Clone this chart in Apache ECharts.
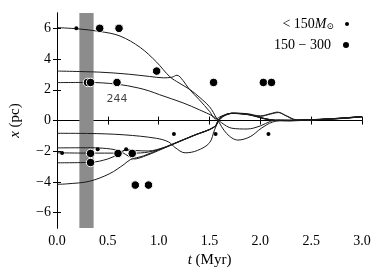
<!DOCTYPE html>
<html>
<head>
<meta charset="utf-8">
<script src="https://cdn.jsdelivr.net/npm/echarts@6/dist/echarts.min.js"></script>
<style>html,body{margin:0;padding:0;background:#fff}#c{width:382px;height:273px}</style>
</head>
<body>
<div id="c"></div>
<script>
// ---- data ----
const tTicks = [0, 0.5, 1.0, 1.5, 2.0, 2.5, 3.0];
const xTicks = [-6, -4, -2, 0, 2, 4, 6];
const band = [0.22, 0.36];
const trackA = [[0,6.05],[0.2,5.97],[0.42,5.8],[0.62,5.5],[0.82,4.75],[0.98,3.8],[1.11,2.85],[1.2,2.45],[1.3,2.05],[1.36,1.75],[1.5,0.9],[1.57,0.15],[1.67,-0.85],[1.78,-1.27],[1.9,-1.05],[2.01,-0.5],[2.12,-0.1],[2.25,0.02],[2.4,0.04],[2.6,0.08],[2.8,0.15],[3.0,0.25]];
const trackB = [[0,3.22],[0.42,3.15],[0.7,3.02],[0.91,2.87],[1.05,2.78],[1.13,2.82],[1.18,2.95],[1.24,2.6],[1.3,2.05],[1.4,1.35],[1.5,0.6],[1.56,0.1],[1.62,0.3],[1.72,0.47],[1.85,0.42],[2.0,0.28],[2.1,0.42],[2.18,0.52],[2.26,0.3],[2.36,0.05],[2.5,0.05],[2.7,0.12],[3.0,0.26]];
const trackC = [[0,2.47],[0.3,2.48],[0.59,2.37],[0.8,2.12],[0.91,1.92],[1.01,1.68],[1.24,1.15],[1.4,0.7],[1.54,0.26],[1.62,-0.15],[1.72,-0.5],[1.87,-0.55],[2.0,-0.35],[2.1,-0.05],[2.2,0.05],[2.36,0.0],[2.5,0.05],[2.7,0.1],[3.0,0.25]];
const trackL1 = [[0,-0.83],[0.3,-0.84],[0.66,-0.93],[0.98,-1.16],[1.1,-1.4],[1.16,-1.75],[1.26,-2.1],[1.38,-1.95],[1.5,-1.45],[1.55,-0.6],[1.6,0.05],[1.66,0.35],[1.74,0.48],[1.87,0.45],[2.0,0.3],[2.1,0.45],[2.17,0.55],[2.24,0.35],[2.36,0.02],[2.5,0.06],[2.7,0.12],[3.0,0.26]];
const trackL2 = [[0,-1.78],[0.3,-1.77],[0.45,-1.8],[0.6,-1.95],[0.7,-2.3],[0.76,-2.5],[0.85,-2.35],[1.0,-1.95],[1.14,-1.55],[1.35,-0.97],[1.55,-0.42],[1.6,0.12],[1.72,0.46],[1.9,0.36],[2.03,0.12],[2.15,0.0],[2.3,-0.02],[2.5,0.04],[2.7,0.1],[3.0,0.24]];
const trackL3 = [[0,-2.1],[0.33,-2.12],[0.6,-2.12],[0.68,-1.92],[0.74,-2.12],[0.9,-2.05],[1.05,-1.78],[1.14,-1.53],[1.35,-0.96],[1.55,-0.41],[1.6,0.14],[1.72,0.47],[1.9,0.37],[2.03,0.14],[2.15,0.01],[2.3,-0.01],[2.5,0.05],[2.7,0.11],[3.0,0.25]];
const trackL4 = [[0,-2.75],[0.33,-2.72],[0.5,-2.5],[0.6,-2.2],[0.68,-1.9],[0.76,-1.95],[0.9,-1.98],[1.05,-1.76],[1.14,-1.54],[1.35,-0.95],[1.55,-0.4],[1.6,0.13],[1.72,0.48],[1.9,0.38],[2.03,0.15],[2.15,0.02],[2.3,0.0],[2.5,0.05],[2.7,0.1],[3.0,0.26]];
const trackL5 = [[0,-4.15],[0.1,-4.12],[0.32,-3.95],[0.52,-3.45],[0.66,-2.85],[0.72,-2.55],[0.85,-2.3],[1.0,-1.9],[1.14,-1.52],[1.35,-0.95],[1.55,-0.4],[1.6,0.15],[1.72,0.48],[1.9,0.38],[2.03,0.15],[2.15,0.02],[2.3,0.0],[2.5,0.05],[2.7,0.1],[2.85,0.15],[3.0,0.26]];
const smallStars = [[0.19,6.0],[0.05,-2.12],[0.4,-1.86],[0.68,-1.86],[1.15,-0.87],[1.56,-0.87],[2.08,-0.87]];
const bigStars = [[0.42,6.0],[0.61,6.0],[0.98,3.22],[0.3,2.48],[0.33,2.48],[0.59,2.48],[1.54,2.48],[2.03,2.48],[2.11,2.48],[0.33,-2.14],[0.33,-2.73],[0.6,-2.14],[0.74,-2.14],[0.77,-4.2],[0.9,-4.2]];
const annotation = [[0.59, 1.4, '244']];
const nameSmall = '< 150M⊙';
const nameBig = '150 − 300';

// ---- chart ----
const SERIF = '"Liberation Serif", "DejaVu Serif", serif';
const chart = echarts.init(document.getElementById('c'), null, {renderer:'canvas'});
const tracks = [trackA, trackB, trackC, trackL1, trackL2, trackL3, trackL4, trackL5];
const minus = s => String(s).replace('-', '\u2212');
const tickStyle = {inside:true, length:4, lineStyle:{color:'#000', width:1}};
const lineSeries = tracks.map((d, i) => ({
  type:'line', data:d, smooth:0.35, showSymbol:false, silent:true, z:3,
  lineStyle:{color:'#1a1a1a', width:1}
}));
const legendText = {
  fontFamily:SERIF, fontSize:14, color:'#000', padding:[0,6,0,0],
  rich:{
    a:{fontFamily:SERIF, fontSize:14, color:'#000'},
    i:{fontFamily:SERIF, fontSize:14, fontStyle:'italic', color:'#000'},
    s:{fontFamily:SERIF, fontSize:9, color:'#000', padding:[6,0,0,0]}
  }
};
const option = {
  animation:false,
  grid:{left:57, right:20, top:13, bottom:42},
  legend:[
    {data:[nameSmall], orient:'vertical', right:33, top:17, padding:0, align:'right',
     itemWidth:4, itemHeight:4, textStyle:legendText,
     formatter:()=>'{a|< 150}{i|M}{s|⊙}'},
    {data:[nameBig], orient:'vertical', right:31, top:38, padding:0, align:'right',
     itemWidth:8, itemHeight:8, textStyle:legendText,
     formatter:n=>'{a|'+n+'}'}
  ],
  xAxis:[
    {type:'value', min:0, max:3, interval:0.5, position:'bottom',
     axisLine:{lineStyle:{color:'#000', width:1}}, axisTick:tickStyle, splitLine:{show:false},
     axisLabel:{formatter:v=>v.toFixed(1), color:'#000', fontFamily:SERIF, fontSize:14, margin:6},
     name:'{i|t} (Myr)', nameLocation:'middle', nameGap:22,
     nameTextStyle:{fontFamily:SERIF, fontSize:15, color:'#000',
       rich:{i:{fontFamily:SERIF, fontSize:15, fontStyle:'italic', color:'#000'}}}},
    {type:'value', min:0, max:3, interval:0.5, position:'top',
     axisLine:{lineStyle:{color:'#000', width:1}}, axisTick:tickStyle, splitLine:{show:false},
     axisLabel:{show:false}}
  ],
  yAxis:[
    {type:'value', min:-7, max:7, position:'left',
     axisLine:{lineStyle:{color:'#000', width:1}}, splitLine:{show:false},
     axisTick:Object.assign({customValues:xTicks}, tickStyle),
     axisLabel:{customValues:xTicks, formatter:v=>minus(v), color:'#000', fontFamily:SERIF, fontSize:14, margin:6},
     name:'{i|x} (pc)', nameLocation:'middle', nameGap:34, nameRotate:90,
     nameTextStyle:{fontFamily:SERIF, fontSize:15, color:'#000',
       rich:{i:{fontFamily:SERIF, fontSize:15, fontStyle:'italic', color:'#000'}}}},
    {type:'value', min:-7, max:7, position:'right',
     axisLine:{lineStyle:{color:'#000', width:1}}, splitLine:{show:false},
     axisTick:Object.assign({customValues:xTicks}, tickStyle),
     axisLabel:{show:false}}
  ],
  series:[
    {type:'line', data:[], silent:true, z:1,
     markArea:{silent:true, itemStyle:{color:'#8c8c8c'}, data:[[{xAxis:band[0]},{xAxis:band[1]}]]}},
    ...lineSeries,
    {type:'scatter', name:nameSmall, data:smallStars, symbolSize:4, z:5,
     itemStyle:{color:'#000', opacity:1}},
    {type:'scatter', name:nameBig, data:bigStars, symbolSize:8.5, z:6,
     itemStyle:{color:'#000', opacity:1, borderColor:'#fff', borderWidth:1}},
    {type:'scatter', data:annotation, symbolSize:0, z:7, silent:true,
     label:{show:true, position:'inside', formatter:p=>p.data[2], fontFamily:'"DejaVu Sans", sans-serif', fontSize:11, color:'#111'}}
  ]
};
chart.setOption(option);
</script>
</body>
</html>
